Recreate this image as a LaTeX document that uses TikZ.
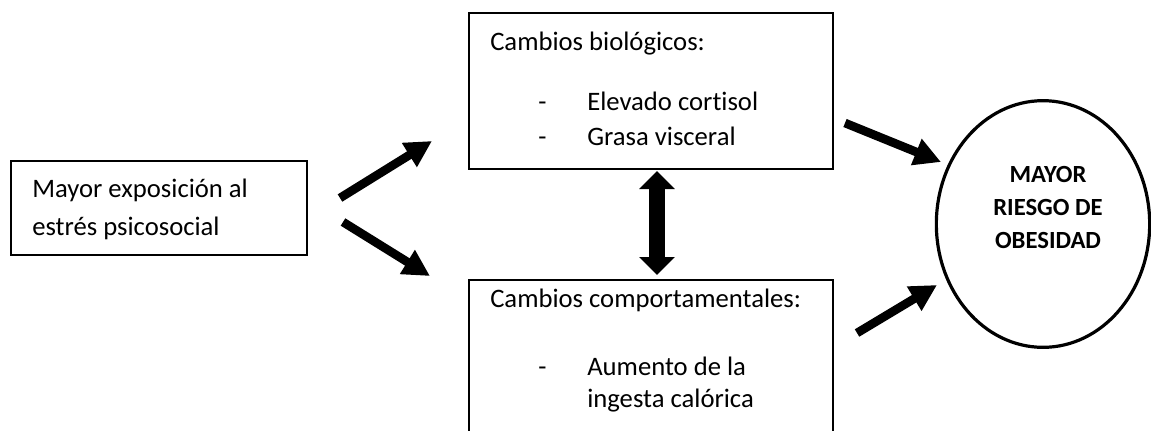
\documentclass[tikz,border=0pt]{standalone}
\usepackage{fontspec}
\setmainfont{Carlito}[Ligatures=NoCommon]
\usetikzlibrary{arrows.meta,fit,shapes.geometric}
\begin{document}
\begin{tikzpicture}[x=0.75pt,y=-0.75pt,
  box/.style={draw, line width=1.1pt, inner sep=0pt},
  txt/.style={anchor=base west, inner sep=0pt, font=\fontsize{20}{24}\selectfont},
  btxt/.style={anchor=base, inner sep=0pt, font=\fontsize{18.5}{22}\selectfont\bfseries},
  bigarrow/.style={line width=6.5pt, -{Triangle[length=20pt,width=20pt]}},
  dblarrow/.style={line width=12.5pt, {Triangle[length=13.5pt,width=26pt]}-{Triangle[length=13.5pt,width=26pt]}}
]
\clip (0,0) rectangle (1151,430);
\fill[white] (0,0) rectangle (1151,430);

% boxes
\node[box, fit={(11,161) (307,255)}] (src) {};
\node[box, line width=1.5pt, fit={(469,13) (833,169)}] (bio) {};
\node[box, fit={(469,280) (833,450)}] (beh) {};
\node[draw, ellipse, line width=2.4pt, inner sep=0pt, minimum width=160pt, minimum height=185pt] (risk) at (1043,224) {};

% texts
\node[txt] (t1) at (32,197) {Mayor exposición al};
\node[txt] (t2) at (32,235) {estrés psicosocial};

\node[txt] (b0) at (490,50) {Cambios biológicos:};
\node[txt] (b1d) at (538,110) {-};
\node[txt] (b1) at (587,110) {Elevado cortisol};
\node[txt] (b2d) at (538,145) {-};
\node[txt] (b2) at (587,145) {Grasa visceral};

\node[txt] (c0) at (490,307) {Cambios comportamentales:};
\node[txt] (c1d) at (538,375) {-};
\node[txt] (c1) at (587,375) {Aumento de la};
\node[txt] (c2) at (587,407) {ingesta calórica};

\node[btxt] (r1) at (1048,182) {MAYOR};
\node[btxt] (r2) at (1048,215) {RIESGO DE};
\node[btxt] (r3) at (1048,248) {OBESIDAD};

% arrow ends
\coordinate (a1s) at (340,198); \coordinate (a1e) at (432,141);
\coordinate (a2s) at (343,222); \coordinate (a2e) at (430,276);
\coordinate (a3s) at (845,123); \coordinate (a3e) at (941,162);
\coordinate (a4s) at (857,333); \coordinate (a4e) at (937,285);
\coordinate (dS) at (657,171); \coordinate (dE) at (657,275);

\draw[bigarrow] (a1s) -- (a1e);
\draw[bigarrow] (a2s) -- (a2e);
\draw[bigarrow] (a3s) -- (a3e);
\draw[bigarrow] (a4s) -- (a4e);
\draw[dblarrow] (dS) -- (dE);
\end{tikzpicture}
\end{document}
